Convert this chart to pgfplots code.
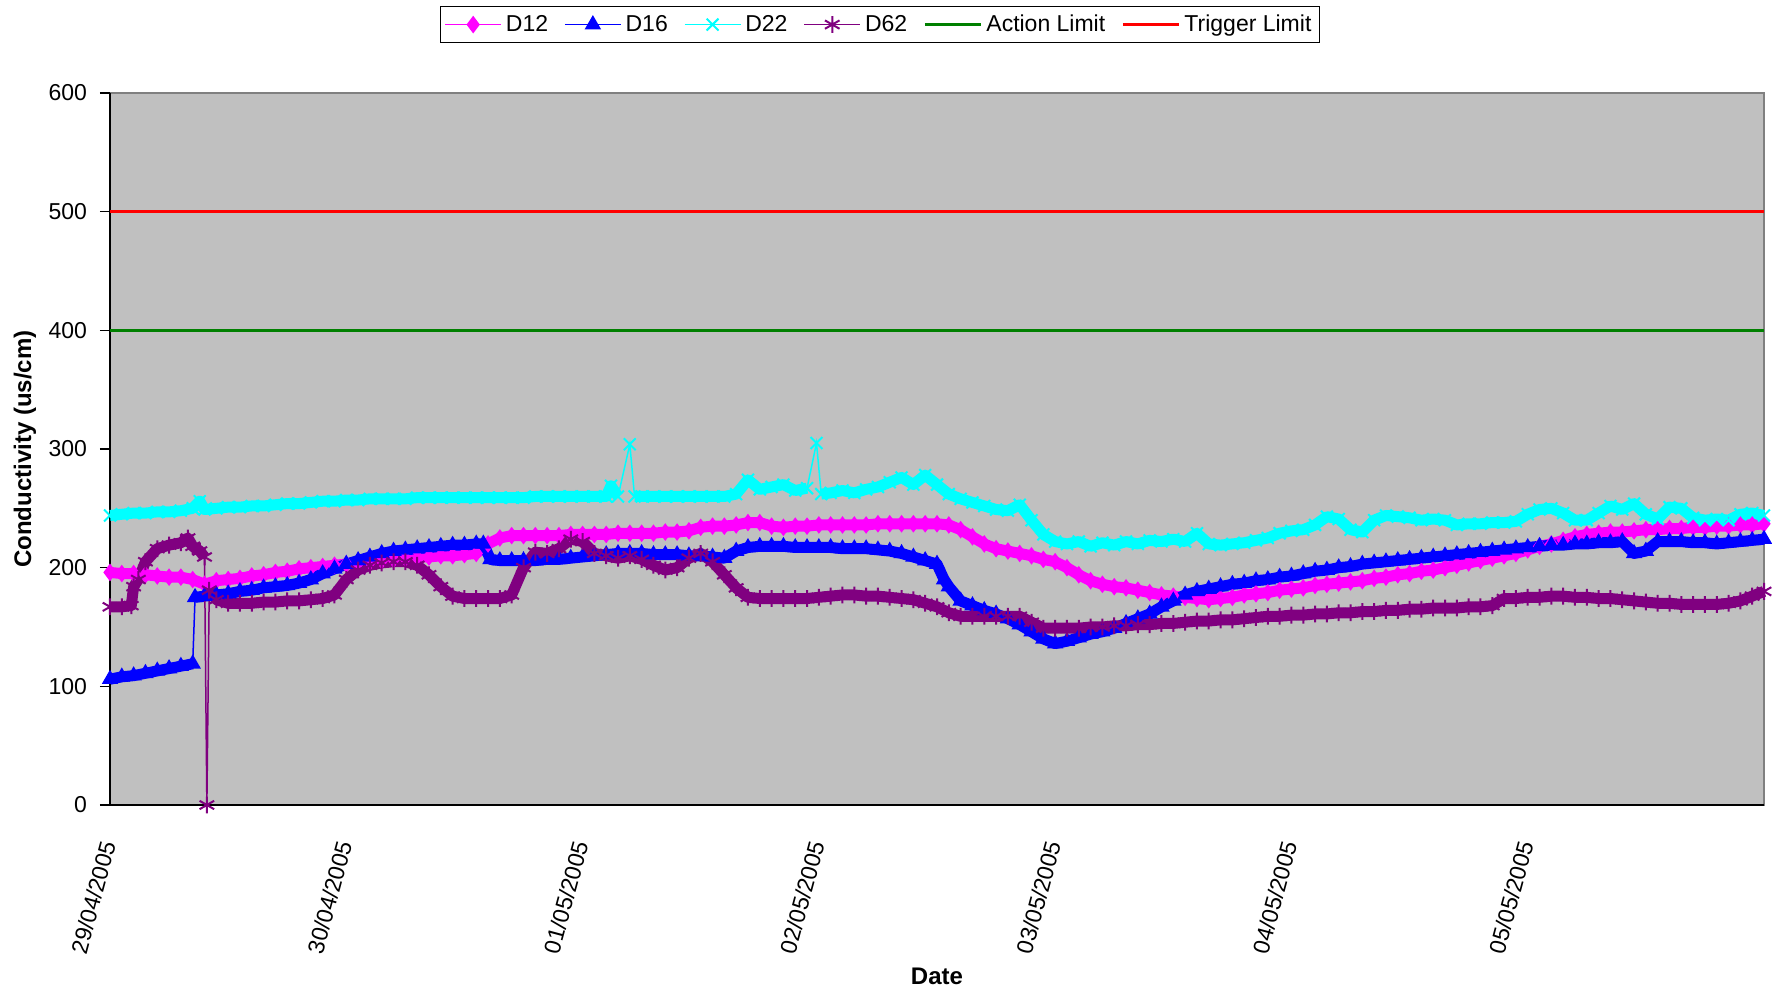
\documentclass[border=0pt]{standalone}
\usepackage{fontspec}
\setmainfont{Liberation Sans}
\usepackage{pgfplots}
\usepackage{pgfplotstable}
\pgfplotsset{compat=1.18}

\definecolor{bggray}{RGB}{192,192,192}
\definecolor{dmag}{RGB}{255,0,255}
\definecolor{dblue}{RGB}{0,0,255}
\definecolor{dcyan}{RGB}{0,255,255}
\definecolor{dpurp}{RGB}{128,0,128}
\definecolor{dgreen}{RGB}{0,128,0}
\definecolor{dred}{RGB}{255,0,0}

% days since 29/04/2005 00:00, conductivity (us/cm)
\pgfplotstableread[row sep=\\]{
x y\\
0.00 196\\ 0.05 195\\ 0.10 195\\ 0.15 194\\ 0.20 193\\ 0.25 192\\ 0.30 192\\ 0.35 190\\ 0.40 186\\ 0.45 189\\
0.50 190\\ 0.55 191\\ 0.60 193\\ 0.65 194\\ 0.70 196\\ 0.75 197\\ 0.80 199\\ 0.85 200\\ 0.90 201\\ 0.95 202\\
1.00 203\\ 1.05 204\\ 1.10 205\\ 1.15 206\\ 1.20 207\\ 1.25 208\\ 1.30 209\\ 1.35 209\\ 1.40 210\\ 1.45 210\\
1.50 211\\ 1.55 212\\ 1.60 220\\ 1.65 225\\ 1.70 227\\ 1.75 227\\ 1.80 227\\ 1.85 227\\ 1.90 227\\ 1.95 228\\
2.00 228\\ 2.05 228\\ 2.10 228\\ 2.15 229\\ 2.20 229\\ 2.25 229\\ 2.30 229\\ 2.35 230\\ 2.40 230\\ 2.45 231\\
2.50 234\\ 2.55 235\\ 2.60 235\\ 2.65 236\\ 2.70 238\\ 2.75 238\\ 2.80 235\\ 2.85 234\\ 2.90 235\\ 2.95 235\\
3.00 236\\ 3.05 236\\ 3.10 236\\ 3.15 236\\ 3.20 236\\ 3.25 237\\ 3.30 237\\ 3.35 237\\ 3.40 237\\ 3.45 237\\
3.50 237\\ 3.55 236\\ 3.60 232\\ 3.65 226\\ 3.70 220\\ 3.75 216\\ 3.80 214\\ 3.85 212\\ 3.90 210\\ 3.95 207\\
4.00 205\\ 4.05 200\\ 4.10 194\\ 4.15 189\\ 4.20 186\\ 4.25 184\\ 4.30 183\\ 4.35 181\\ 4.40 179\\ 4.45 177\\
4.50 176\\ 4.55 175\\ 4.60 174\\ 4.65 173\\ 4.70 174\\ 4.75 175\\ 4.80 177\\ 4.85 178\\ 4.90 179\\ 4.95 181\\
5.00 182\\ 5.05 183\\ 5.10 185\\ 5.15 186\\ 5.20 187\\ 5.25 188\\ 5.30 189\\ 5.35 191\\ 5.40 192\\ 5.45 194\\
5.50 195\\ 5.55 197\\ 5.60 198\\ 5.65 200\\ 5.70 202\\ 5.75 204\\ 5.80 206\\ 5.85 208\\ 5.90 210\\ 5.95 212\\
6.00 215\\ 6.05 218\\ 6.10 220\\ 6.15 223\\ 6.20 226\\ 6.25 228\\ 6.30 229\\ 6.35 230\\ 6.40 230\\ 6.45 231\\
6.50 232\\ 6.55 232\\ 6.60 233\\ 6.65 233\\ 6.70 234\\ 6.75 234\\ 6.80 235\\ 6.85 235\\ 6.90 236\\ 6.95 236\\
7.00 237\\
}\dtwelve

\pgfplotstableread[row sep=\\]{
x y\\
0.00 106\\ 0.05 108\\ 0.10 109\\ 0.15 111\\ 0.20 113\\ 0.25 115\\ 0.30 117\\ 0.35 119\\ 0.36 175\\ 0.40 176\\
0.45 177\\ 0.50 178\\ 0.55 180\\ 0.60 181\\ 0.65 183\\ 0.70 184\\ 0.75 185\\ 0.80 187\\ 0.85 190\\ 0.90 195\\
0.95 199\\ 1.00 203\\ 1.05 206\\ 1.10 209\\ 1.15 212\\ 1.20 214\\ 1.25 215\\ 1.30 216\\ 1.35 217\\ 1.40 218\\
1.45 219\\ 1.50 219\\ 1.55 220\\ 1.58 220\\ 1.61 207\\ 1.65 206\\ 1.70 206\\ 1.75 206\\ 1.80 206\\ 1.85 207\\
1.90 207\\ 1.95 208\\ 2.00 209\\ 2.05 210\\ 2.10 211\\ 2.15 212\\ 2.20 212\\ 2.25 212\\ 2.30 211\\ 2.35 211\\
2.40 211\\ 2.45 210\\ 2.50 210\\ 2.55 209\\ 2.60 208\\ 2.65 214\\ 2.70 217\\ 2.75 218\\ 2.80 218\\ 2.85 218\\
2.90 217\\ 2.95 217\\ 3.00 217\\ 3.05 217\\ 3.10 216\\ 3.15 216\\ 3.20 216\\ 3.25 215\\ 3.30 214\\ 3.35 212\\
3.40 209\\ 3.45 206\\ 3.50 203\\ 3.53 190\\ 3.55 184\\ 3.60 172\\ 3.65 168\\ 3.70 164\\ 3.75 161\\ 3.80 157\\
3.85 152\\ 3.90 146\\ 3.95 140\\ 4.00 136\\ 4.05 138\\ 4.10 141\\ 4.15 144\\ 4.20 146\\ 4.25 149\\ 4.30 153\\
4.35 157\\ 4.40 161\\ 4.45 167\\ 4.50 172\\ 4.55 177\\ 4.60 180\\ 4.65 182\\ 4.70 184\\ 4.75 186\\ 4.80 187\\
4.85 189\\ 4.90 190\\ 4.95 192\\ 5.00 193\\ 5.05 195\\ 5.10 197\\ 5.15 198\\ 5.20 200\\ 5.25 201\\ 5.30 203\\
5.35 204\\ 5.40 205\\ 5.45 206\\ 5.50 207\\ 5.55 208\\ 5.60 209\\ 5.65 210\\ 5.70 211\\ 5.75 212\\ 5.80 213\\
5.85 214\\ 5.90 215\\ 5.95 216\\ 6.00 217\\ 6.05 218\\ 6.10 219\\ 6.15 219\\ 6.20 220\\ 6.25 220\\ 6.30 221\\
6.35 221\\ 6.40 222\\ 6.45 212\\ 6.50 214\\ 6.55 222\\ 6.60 222\\ 6.65 222\\ 6.70 221\\ 6.75 221\\ 6.80 220\\
6.85 221\\ 6.90 222\\ 6.95 223\\ 7.00 224\\
}\dsixteen

\pgfplotstableread[row sep=\\]{
x y\\
0.00 244\\ 0.05 245\\ 0.10 246\\ 0.15 246\\ 0.20 247\\ 0.25 247\\ 0.30 248\\ 0.35 250\\ 0.38 256\\ 0.40 249\\
0.45 250\\ 0.50 251\\ 0.55 251\\ 0.60 252\\ 0.65 252\\ 0.70 253\\ 0.75 254\\ 0.80 254\\ 0.85 255\\ 0.90 256\\
0.95 256\\ 1.00 257\\ 1.05 257\\ 1.10 258\\ 1.15 258\\ 1.20 258\\ 1.25 258\\ 1.30 259\\ 1.35 259\\ 1.40 259\\
1.45 259\\ 1.50 259\\ 1.55 259\\ 1.60 259\\ 1.65 259\\ 1.70 259\\ 1.75 259\\ 1.80 260\\ 1.85 260\\ 1.90 260\\
1.95 260\\ 2.00 260\\ 2.05 260\\ 2.10 260\\ 2.12 269\\ 2.15 260\\ 2.20 304\\ 2.22 260\\ 2.25 260\\ 2.30 260\\
2.35 260\\ 2.40 260\\ 2.45 260\\ 2.50 260\\ 2.55 260\\ 2.60 260\\ 2.65 262\\ 2.70 274\\ 2.75 266\\ 2.80 268\\
2.85 270\\ 2.90 265\\ 2.95 267\\ 2.99 305\\ 3.01 262\\ 3.05 263\\ 3.10 265\\ 3.15 263\\ 3.20 266\\ 3.25 268\\
3.30 272\\ 3.35 276\\ 3.40 270\\ 3.45 278\\ 3.50 270\\ 3.55 262\\ 3.60 258\\ 3.65 255\\ 3.70 252\\ 3.75 249\\
3.80 248\\ 3.85 253\\ 3.90 240\\ 3.95 228\\ 4.00 222\\ 4.05 220\\ 4.10 222\\ 4.15 218\\ 4.20 221\\ 4.25 219\\
4.30 222\\ 4.35 220\\ 4.40 223\\ 4.45 222\\ 4.50 224\\ 4.55 222\\ 4.60 229\\ 4.65 220\\ 4.70 219\\ 4.75 220\\
4.80 221\\ 4.85 223\\ 4.90 225\\ 4.95 229\\ 5.00 231\\ 5.05 232\\ 5.10 236\\ 5.15 243\\ 5.20 241\\ 5.25 232\\
5.30 230\\ 5.35 240\\ 5.40 244\\ 5.45 243\\ 5.50 242\\ 5.55 240\\ 5.60 241\\ 5.65 240\\ 5.70 236\\ 5.75 237\\
5.80 237\\ 5.85 238\\ 5.90 238\\ 5.95 239\\ 6.00 245\\ 6.05 249\\ 6.10 250\\ 6.15 246\\ 6.20 240\\ 6.25 240\\
6.30 246\\ 6.35 252\\ 6.40 249\\ 6.45 254\\ 6.50 245\\ 6.55 241\\ 6.60 251\\ 6.65 250\\ 6.70 242\\ 6.75 240\\
6.80 241\\ 6.85 240\\ 6.90 245\\ 6.95 246\\ 7.00 244\\
}\dtwentytwo

\pgfplotstableread[row sep=\\]{
x y\\
0.00 167\\ 0.05 167\\ 0.09 168\\ 0.10 184\\ 0.12 190\\ 0.15 205\\ 0.20 216\\ 0.25 219\\ 0.30 221\\ 0.33 225\\
0.35 218\\ 0.38 214\\ 0.40 209\\ 0.41 0\\ 0.42 181\\ 0.45 173\\ 0.50 170\\ 0.55 170\\ 0.60 170\\ 0.65 171\\
0.70 171\\ 0.75 172\\ 0.80 172\\ 0.85 173\\ 0.90 174\\ 0.95 177\\ 1.00 190\\ 1.05 198\\ 1.10 202\\ 1.15 204\\
1.20 205\\ 1.25 205\\ 1.30 202\\ 1.35 194\\ 1.40 184\\ 1.45 176\\ 1.50 174\\ 1.55 174\\ 1.60 174\\ 1.65 174\\
1.70 177\\ 1.75 200\\ 1.80 213\\ 1.85 212\\ 1.90 216\\ 1.95 224\\ 2.00 222\\ 2.05 212\\ 2.10 210\\ 2.15 208\\
2.20 210\\ 2.25 207\\ 2.30 202\\ 2.35 198\\ 2.40 200\\ 2.45 208\\ 2.50 212\\ 2.55 205\\ 2.60 194\\ 2.65 183\\
2.70 175\\ 2.75 174\\ 2.80 174\\ 2.85 174\\ 2.90 174\\ 2.95 174\\ 3.00 175\\ 3.05 176\\ 3.10 177\\ 3.15 177\\
3.20 176\\ 3.25 176\\ 3.30 175\\ 3.35 174\\ 3.40 173\\ 3.45 170\\ 3.50 167\\ 3.55 162\\ 3.60 159\\ 3.65 159\\
3.70 159\\ 3.75 159\\ 3.80 159\\ 3.85 159\\ 3.90 154\\ 3.95 149\\ 4.00 149\\ 4.05 149\\ 4.10 149\\ 4.15 150\\
4.20 150\\ 4.25 151\\ 4.30 151\\ 4.35 152\\ 4.40 152\\ 4.45 153\\ 4.50 153\\ 4.55 154\\ 4.60 155\\ 4.65 155\\
4.70 156\\ 4.75 156\\ 4.80 157\\ 4.85 158\\ 4.90 159\\ 4.95 159\\ 5.00 160\\ 5.05 160\\ 5.10 161\\ 5.15 161\\
5.20 162\\ 5.25 162\\ 5.30 163\\ 5.35 163\\ 5.40 164\\ 5.45 164\\ 5.50 165\\ 5.55 165\\ 5.60 166\\ 5.65 166\\
5.70 166\\ 5.75 167\\ 5.80 167\\ 5.85 168\\ 5.90 174\\ 5.95 174\\ 6.00 175\\ 6.05 175\\ 6.10 176\\ 6.15 176\\
6.20 175\\ 6.25 175\\ 6.30 174\\ 6.35 174\\ 6.40 173\\ 6.45 172\\ 6.50 171\\ 6.55 170\\ 6.60 170\\ 6.65 169\\
6.70 169\\ 6.75 169\\ 6.80 169\\ 6.85 170\\ 6.90 172\\ 6.95 176\\ 7.00 180\\
}\dsixtytwo

\begin{document}
\begin{tikzpicture}
\useasboundingbox (-55pt,-94.5pt) rectangle (831pt,402.5pt);
\begin{axis}[
    at={(0pt,0pt)}, anchor=south west,
    scale only axis,
    width=827pt, height=356pt,
    xmin=0, xmax=7, ymin=0, ymax=600,
    clip=false,
    axis x line*=bottom, axis y line*=left,
    axis line style={black, line width=0.9pt, -},
    axis background/.style={fill=bggray, draw=gray, line width=0.8pt},
    xtick={0,...,6},
    xticklabels={29/04/2005,30/04/2005,01/05/2005,02/05/2005,03/05/2005,04/05/2005,05/05/2005},
    xtick style={draw=none},
    ytick={0,100,...,600},
    tick align=outside,
    major tick length=5pt,
    ytick style={black, line width=0.6pt},
    /pgf/number format/assume math mode=true,
    ticklabel style={font=\fontsize{11.5}{13}\selectfont},
    yticklabel shift=3pt,
    xticklabel style={rotate=75, anchor=east},
    xticklabel shift=10pt,
    xlabel={Date},
    ylabel={Conductivity (us/cm)},
    every axis x label/.style={at={(axis description cs:0.5,-0.240)}, anchor=center, font=\fontsize{12}{14}\selectfont\bfseries},
    every axis y label/.style={at={(axis description cs:-0.0514,0.5)}, rotate=90, anchor=center, font=\fontsize{12}{14}\selectfont\bfseries},
    legend columns=6,
    legend style={at={(axis description cs:0.4655,1.0702)}, anchor=south,
        font=\fontsize{11.5}{13}\selectfont, draw=black, line width=0.6pt, fill=white,
        inner sep=2pt,
        /tikz/every even column/.append style={column sep=6pt}},
    legend image code/.code={\draw[mark repeat=2,mark phase=2]
        plot coordinates {(0pt,0pt) (14pt,0pt) (28pt,0pt)};},
    legend cell align=left,
]
% D12
\addplot[dmag, line width=5.5pt, line join=round, forget plot] table {\dtwelve};
\addplot[dmag, line width=0.75pt, mark=diamond*, mark size=3.8pt] table {\dtwelve};
\addlegendentry{D12}
% D16
\addplot[dblue, line width=5.5pt, line join=round, forget plot, restrict x to domain=0:0.355] table {\dsixteen};
\addplot[dblue, line width=5.5pt, line join=round, forget plot, restrict x to domain=0.357:7] table {\dsixteen};
\addplot[dblue, line width=0.75pt, mark=triangle*, mark size=4pt] table {\dsixteen};
\addlegendentry{D16}
% D22
\addplot[dcyan, line width=5.5pt, line join=round, forget plot, restrict y to domain=0:290] table {\dtwentytwo};
\addplot[dcyan, line width=0.75pt, mark=x, mark size=4.2pt, mark options={line width=1pt}] table {\dtwentytwo};
\addlegendentry{D22}
% D62
\addplot[dpurp, line width=5.5pt, line join=round, forget plot, restrict y to domain=100:300] table {\dsixtytwo};
\addplot[dpurp, line width=0.75pt, mark=asterisk, mark size=4.2pt, mark options={line width=1pt}] table {\dsixtytwo};
\addlegendentry{D62}
% limits
\addplot[dgreen, line width=1.6pt] coordinates {(0,400) (7,400)};
\addlegendentry{Action Limit}
\addplot[dred, line width=1.6pt] coordinates {(0,500) (7,500)};
\addlegendentry{Trigger Limit}
\end{axis}
\end{tikzpicture}
\end{document}
